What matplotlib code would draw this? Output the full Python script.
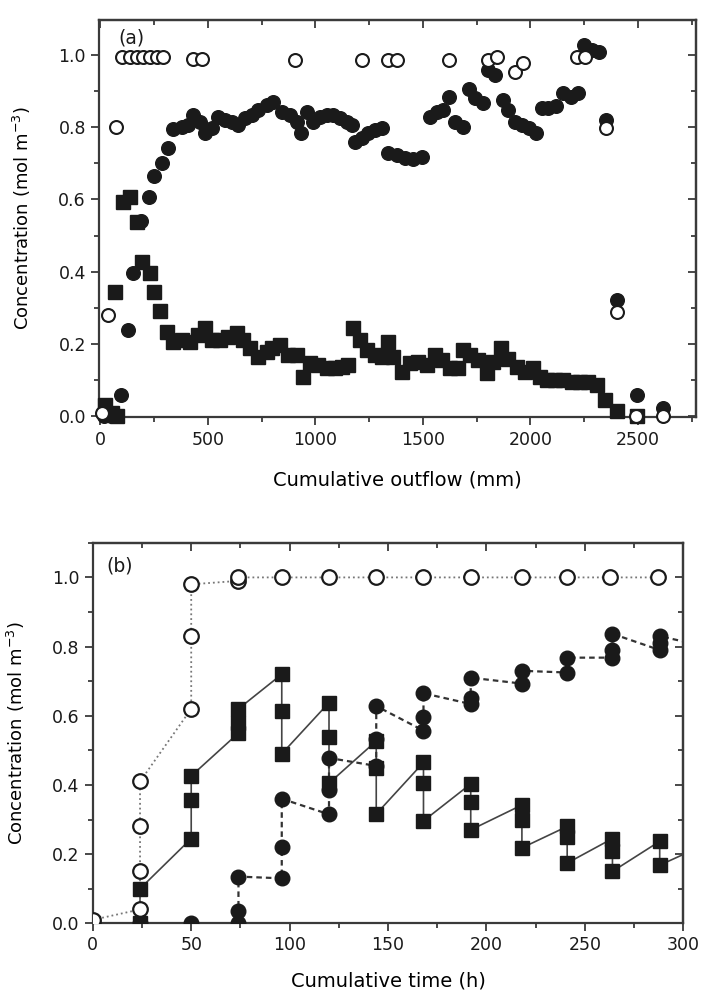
import matplotlib
matplotlib.use("Agg")
from matplotlib import pyplot as plt
from matplotlib.ticker import MultipleLocator
import numpy as np

# ---- panel (a): concentration vs cumulative outflow ----
a_open_x = [9, 38, 74, 102, 140, 172, 200, 233, 265, 293, 432, 474, 906, 1218, 1338, 1380,
            1622, 1803, 1845, 1928, 1966, 2216, 2254, 2351, 2402, 2490, 2616]
a_open_y = [0.01, 0.28, 0.80, 0.995, 0.995, 0.995, 0.995, 0.995, 0.995, 0.995, 0.99, 0.99,
            0.986, 0.986, 0.986, 0.986, 0.986, 0.986, 0.995, 0.953, 0.978, 0.995, 0.995,
            0.797, 0.288, 0.0, 0.0]

a_fill_x = [20, 50, 98, 130, 153, 190, 226, 252, 289, 316, 340, 380, 409, 432, 465, 488, 520,
            548, 581, 613, 641, 674, 706, 734, 776, 804, 846, 883, 915, 934, 962, 990, 1022,
            1055, 1083, 1115, 1148, 1171, 1185, 1218, 1245, 1278, 1310, 1338, 1380, 1417, 1455,
            1496, 1533, 1566, 1594, 1622, 1650, 1687, 1715, 1743, 1780, 1803, 1836, 1873, 1896,
            1928, 1961, 1994, 2026, 2054, 2082, 2119, 2152, 2189, 2222, 2249, 2286, 2319, 2351,
            2402, 2495, 2616]
a_fill_y = [0.0, 0.0, 0.058, 0.238, 0.396, 0.54, 0.607, 0.665, 0.70, 0.742, 0.795, 0.80, 0.806,
            0.834, 0.814, 0.784, 0.798, 0.828, 0.82, 0.814, 0.806, 0.825, 0.834, 0.848, 0.862,
            0.87, 0.842, 0.834, 0.815, 0.784, 0.842, 0.815, 0.829, 0.834, 0.834, 0.825, 0.815,
            0.806, 0.76, 0.77, 0.784, 0.792, 0.797, 0.73, 0.723, 0.714, 0.711, 0.718, 0.829,
            0.842, 0.848, 0.884, 0.815, 0.80, 0.905, 0.88, 0.867, 0.958, 0.945, 0.875, 0.848,
            0.815, 0.806, 0.797, 0.784, 0.852, 0.852, 0.86, 0.894, 0.884, 0.894, 1.027, 1.014,
            1.008, 0.82, 0.323, 0.058, 0.022]

a_sq_x = [23, 56, 79, 70, 107, 139, 172, 195, 232, 251, 279, 311, 339, 381, 418, 455, 488, 520,
          557, 595, 637, 665, 697, 734, 776, 799, 836, 874, 915, 943, 976, 1013, 1055, 1092,
          1125, 1152, 1176, 1208, 1241, 1278, 1310, 1338, 1362, 1403, 1441, 1478, 1519, 1557,
          1589, 1627, 1664, 1687, 1719, 1757, 1798, 1826, 1863, 1896, 1938, 1975, 2012, 2045,
          2077, 2114, 2152, 2193, 2230, 2268, 2309, 2347, 2402, 2495]
a_sq_y = [0.03, 0.01, 0.0, 0.344, 0.593, 0.607, 0.537, 0.427, 0.396, 0.344, 0.291, 0.233, 0.205,
          0.21, 0.205, 0.224, 0.244, 0.21, 0.21, 0.219, 0.23, 0.21, 0.188, 0.163, 0.177, 0.188,
          0.197, 0.169, 0.169, 0.108, 0.147, 0.141, 0.133, 0.133, 0.136, 0.141, 0.244, 0.21,
          0.183, 0.169, 0.163, 0.205, 0.163, 0.122, 0.147, 0.15, 0.141, 0.169, 0.155, 0.133,
          0.133, 0.183, 0.169, 0.155, 0.119, 0.15, 0.188, 0.158, 0.136, 0.122, 0.133, 0.108,
          0.1, 0.1, 0.1, 0.094, 0.094, 0.094, 0.086, 0.044, 0.014, 0.0]

# ---- panel (b): concentration vs cumulative time ----
b_open_t = [0, 24, 24, 24, 24, 50, 50, 50, 74, 74, 96, 120, 144, 168, 192, 218, 241, 263, 287]
b_open_y = [0.01, 0.04, 0.15, 0.28, 0.41, 0.62, 0.83, 0.98, 0.99, 1.0, 1.0, 1.0, 1.0, 1.0, 1.0,
            1.0, 1.0, 1.0, 1.0]

b_fill_t = [0, 24, 50, 74, 74, 74, 96, 96, 96, 120, 120, 120, 144, 144, 144, 168, 168, 168,
            192, 192, 192, 218, 218, 241, 241, 264, 264, 264, 288, 288, 288, 312]
b_fill_y = [0.0, 0.0, 0.0, 0.0, 0.035, 0.135, 0.13, 0.22, 0.36, 0.315, 0.385, 0.478, 0.455,
            0.533, 0.628, 0.557, 0.595, 0.665, 0.634, 0.65, 0.71, 0.693, 0.73, 0.725, 0.768,
            0.768, 0.79, 0.837, 0.79, 0.81, 0.83, 0.80]

b_sq_t = [0, 24, 24, 50, 50, 50, 74, 74, 74, 96, 96, 96, 120, 120, 120, 144, 144, 144, 168, 168,
          168, 192, 192, 192, 218, 218, 218, 241, 241, 241, 264, 264, 264, 288, 288, 312]
b_sq_y = [0.0, 0.0, 0.10, 0.245, 0.357, 0.426, 0.55, 0.58, 0.62, 0.72, 0.615, 0.49, 0.638, 0.54,
          0.405, 0.527, 0.45, 0.316, 0.465, 0.406, 0.296, 0.403, 0.35, 0.27, 0.342, 0.298, 0.218,
          0.28, 0.25, 0.174, 0.245, 0.21, 0.15, 0.237, 0.168, 0.23]

plt.rcParams['font.family'] = ['DejaVu Sans']
ink = '#1a1a1a'
spine_c = '#3a3a3a'


def style_axes(ax, xmaj, xmin, xlim, ylim):
    ax.set_xlim(*xlim)
    ax.set_ylim(*ylim)
    ax.xaxis.set_major_locator(MultipleLocator(xmaj))
    ax.xaxis.set_minor_locator(MultipleLocator(xmin))
    ax.yaxis.set_major_locator(MultipleLocator(0.2))
    ax.yaxis.set_minor_locator(MultipleLocator(0.1))
    ax.yaxis.set_major_formatter(lambda v, p: f'{v:.1f}')
    for s in ax.spines.values():
        s.set_linewidth(1.6)
        s.set_color(spine_c)
    ax.tick_params(which='both', direction='out', colors=spine_c, labelcolor=ink,
                   labelsize=12.5, width=1.3)
    ax.tick_params(which='major', length=6)
    ax.tick_params(which='minor', length=3.5)
    # inward ticks on top and right
    top = ax.secondary_xaxis('top')
    top.xaxis.set_major_locator(MultipleLocator(xmaj))
    top.xaxis.set_minor_locator(MultipleLocator(xmin))
    top.tick_params(which='both', direction='in', labeltop=False, colors=spine_c, width=1.3)
    top.tick_params(which='major', length=6)
    top.tick_params(which='minor', length=3.5)
    right = ax.secondary_yaxis('right')
    right.yaxis.set_major_locator(MultipleLocator(0.2))
    right.yaxis.set_minor_locator(MultipleLocator(0.1))
    right.tick_params(which='both', direction='in', labelright=False, colors=spine_c, width=1.3)
    right.tick_params(which='major', length=6)
    right.tick_params(which='minor', length=3.5)
    for sec in (top, right):
        for s in sec.spines.values():
            s.set_linewidth(1.6)
            s.set_color(spine_c)


fig = plt.figure(figsize=(7.03, 9.96), dpi=100)
ax1 = fig.add_axes([0.141, 0.581, 0.849, 0.399])
ax2 = fig.add_axes([0.132, 0.073, 0.840, 0.382])

# (a)
ax1.plot(a_sq_x, a_sq_y, 's', ms=9.8, color=ink, clip_on=False, zorder=3)
ax1.plot(a_fill_x, a_fill_y, 'o', ms=9.8, color=ink, clip_on=False, zorder=4)
ax1.plot(a_open_x, a_open_y, 'o', ms=9.3, mfc='white', mec=ink, mew=1.5,
         clip_on=False, zorder=5)
style_axes(ax1, 500, 250, (-5, 2770), (-0.003, 1.097))
ax1.set_xlabel('Cumulative outflow (mm)', fontsize=14, labelpad=16)
ax1.set_ylabel('Concentration (mol m$^{-3}$)', fontsize=13, labelpad=18)
ax1.text(0.054, 0.955, '(a)', transform=ax1.transAxes, fontsize=13.5,
         ha='center', va='center', color=ink)

# (b)
ax2.plot(b_sq_t, b_sq_y, '-', color='#444444', lw=1.2, zorder=2)
ax2.plot(b_fill_t, b_fill_y, '--', color='#333333', lw=1.6, dashes=(2.5, 1.8), zorder=2)
ax2.plot(b_open_t, b_open_y, ':', color='#777777', lw=1.3, zorder=2)
ax2.plot(b_sq_t, b_sq_y, 's', ms=10, color=ink, lw=0, clip_on=False, zorder=3)
ax2.plot(b_fill_t, b_fill_y, 'o', ms=10.5, color=ink, lw=0, clip_on=False, zorder=4)
ax2.plot(b_open_t, b_open_y, 'o', ms=10.5, mfc='white', mec=ink, mew=1.6, lw=0,
         clip_on=False, zorder=5)
# drop markers lying beyond the right edge
for ln in ax2.lines[3:]:
    ln.set_clip_on(True)
style_axes(ax2, 50, 25, (0, 300), (0, 1.1))
ax2.set_xlabel('Cumulative time (h)', fontsize=14, labelpad=12)
ax2.set_ylabel('Concentration (mol m$^{-3}$)', fontsize=13, labelpad=18)
ax2.text(0.046, 0.94, '(b)', transform=ax2.transAxes, fontsize=13.5,
         ha='center', va='center', color=ink)

fig.savefig('out.png', dpi=100)
